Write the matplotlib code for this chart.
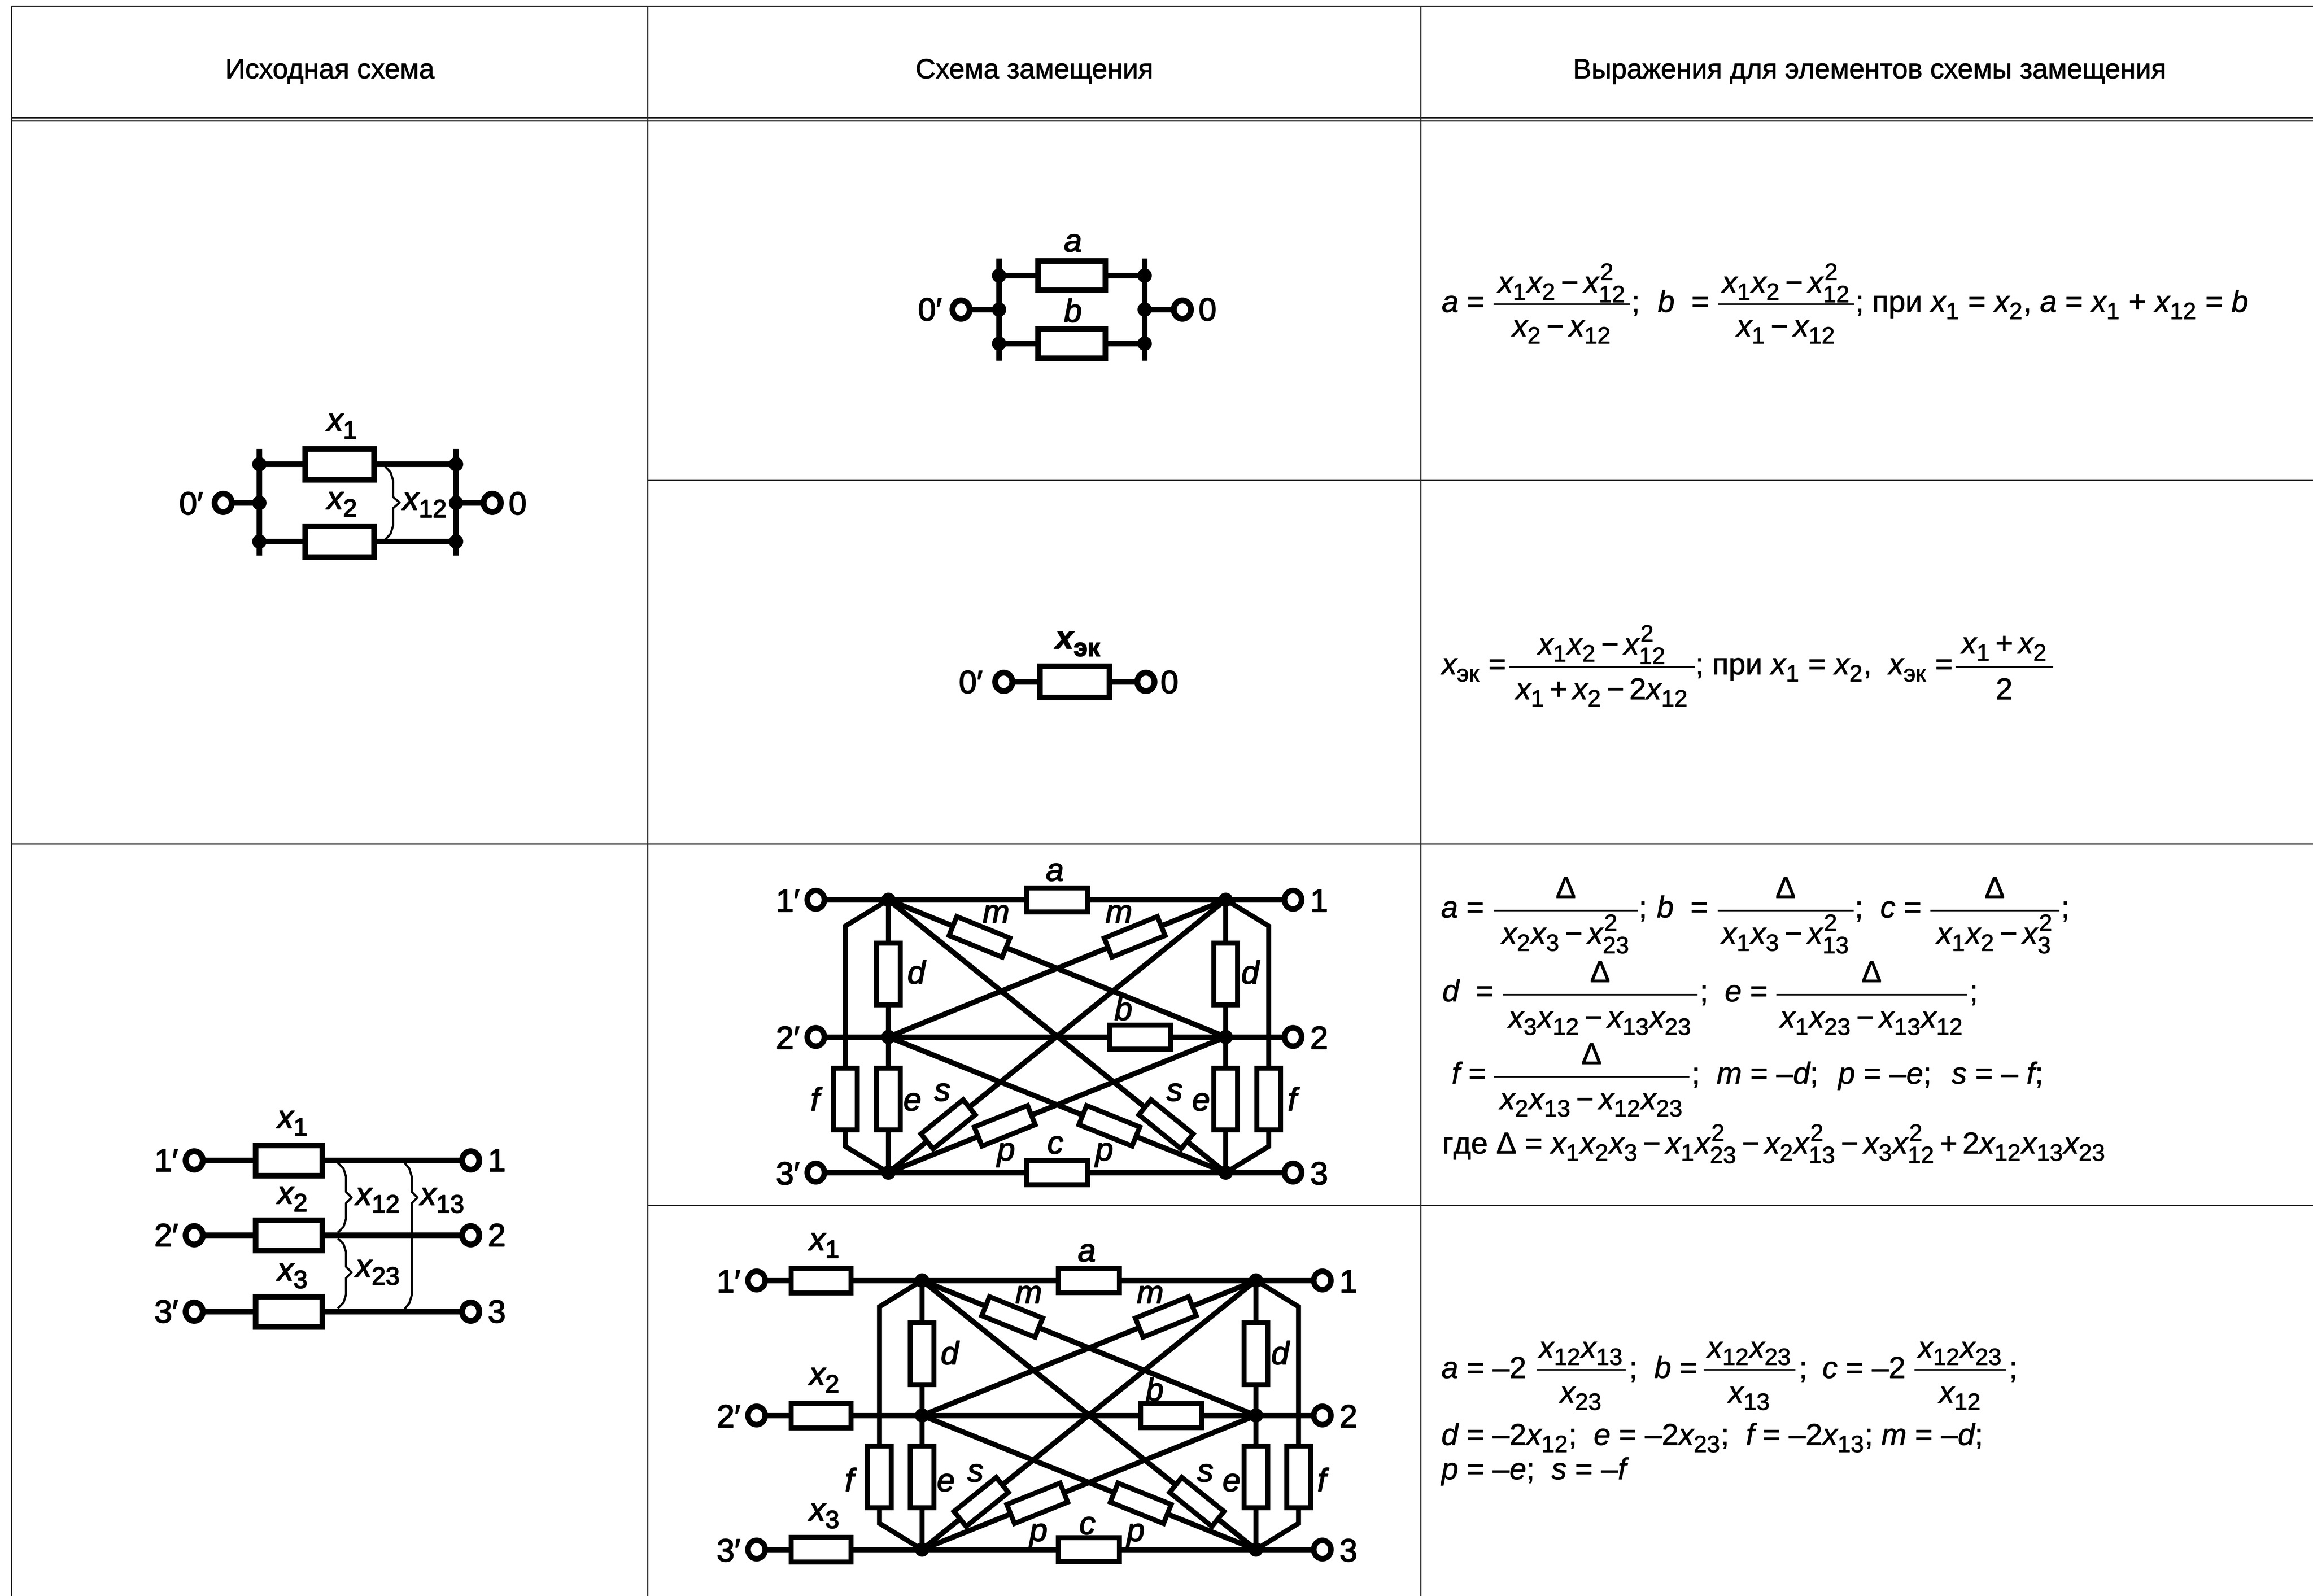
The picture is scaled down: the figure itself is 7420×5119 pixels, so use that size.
#!/usr/bin/env python3
"""Table of equivalent circuits for mutually coupled reactors, drawn in pixel coordinates."""

import matplotlib
matplotlib.use("Agg")
import matplotlib._mathtext as mt
import matplotlib.patheffects as pe
import matplotlib.pyplot as plt
from matplotlib.patches import Ellipse, Polygon
import numpy as np

W, H = 7421, 5119
PX = 72 / 100  # points per reference pixel at dpi 100

plt.rcParams["font.family"] = ["Liberation Sans", "DejaVu Sans"]
plt.rcParams["mathtext.fontset"] = "custom"
plt.rcParams["mathtext.rm"] = "Liberation Sans"
plt.rcParams["mathtext.it"] = "Liberation Sans:italic"
plt.rcParams["mathtext.bf"] = "Liberation Sans:bold"
plt.rcParams["mathtext.bfit"] = "Liberation Sans:italic:bold"

# the source has larger, lower subscripts than mathtext's defaults
mt.SHRINK_FACTOR = 0.78
mt.FontConstantsBase.sub1 = 0.45
mt.FontConstantsBase.sub2 = 0.6
mt.FontConstantsBase.sup1 = 0.8

HEADERS = ["Исходная схема", "Схема замещения", "Выражения для элементов схемы замещения"]
HEADER_X = [1058, 3318, 5997]
COL_X = [37, 2078, 4558]
HEAD_Y = [20, 378, 388]
ROW_FULL_Y = [2707]
ROW_PART_Y = [1541, 3866]

NET_LABELS = ["a", "m", "m", "d", "d", "b", "f", "e", "s", "s", "e", "f", "p", "c", "p"]
NET_LABEL_DX = [533, 344, 738, 92, 1163, 753, -230, 76, 173, 918, 1002, 1301, 378, 536, 693]
NET_LABEL_DY = [-61, 73, 73, 269, 269, 386, 676, 676, 645, 645, 676, 676, 836, 814, 836]

FS = 97 * PX
FS_NET = 103 * PX
FS_HEAD = 89 * PX

fig = plt.figure(figsize=(W / 100, H / 100), dpi=100)
ax = fig.add_axes([0, 0, 1, 1])
ax.set_xlim(0, W)
ax.set_ylim(H, 0)
ax.axis("off")


def line(xs, ys, lw=16, color="black", z=2):
    ax.plot(xs, ys, color=color, lw=lw * PX, solid_capstyle="butt",
            solid_joinstyle="miter", zorder=z)


def txt(x, y, s, ha="left", size=FS, bold=1.5):
    t = ax.text(x, y, s, ha=ha, va="baseline", fontsize=size, color="black", zorder=6)
    if bold:
        t.set_path_effects([pe.withStroke(linewidth=bold * PX, foreground="black")])


def lab(x, y, s, ha="left"):
    # labels inside the circuit drawings are heavier than the formulas
    txt(x, y, s, ha=ha, size=FS_NET, bold=3)


def resistor(cx, cy, w, h, lw=16, angle=0.0):
    # w and h are the outer size of the box
    u = np.array([np.cos(angle), np.sin(angle)])
    v = np.array([-u[1], u[0]])
    c = np.array([cx, cy])
    a, b = (w - lw) / 2, (h - lw) / 2
    pts = [c - a * u - b * v, c + a * u - b * v, c + a * u + b * v, c - a * u + b * v]
    ax.add_patch(Polygon(pts, closed=True, fc="white", ec="black", lw=lw * PX,
                         joinstyle="miter", zorder=4))


def terminal(x, y, lw=16, d=55):
    ax.add_patch(Ellipse((x, y), d, d + 4, fc="white", ec="black", lw=lw * PX, zorder=5))


def node(x, y, d=46):
    ax.add_patch(Ellipse((x, y), d, d, fc="black", ec="none", zorder=5))


def brace(x0, xv, xt, ytop, ymid, ybot):
    xs = [x0, xv - 8, xv, xv, xt, xv, xv, xv - 8, x0]
    ys = [ytop, ytop + 16, ytop + 42, ymid - 18, ymid, ymid + 18, ybot - 42, ybot - 16, ybot]
    ax.plot(xs, ys, color="black", lw=7 * PX, solid_joinstyle="round", zorder=3)


def parallel(xl, xr, xc, xtl, xtr, y1, y2, ytop, ybot, w, h):
    ym = (y1 + y2) / 2
    line([xl, xl], [ytop, ybot], 18)
    line([xr, xr], [ytop, ybot], 18)
    for y in (y1, y2):
        line([xl, xr], [y, y], 18)
        resistor(xc, y, w, h, 18)
        node(xl, y)
        node(xr, y)
    line([xtl, xl], [ym, ym], 18)
    line([xr, xtr], [ym, ym], 18)
    node(xl, ym)
    node(xr, ym)
    terminal(xtl, ym, 19)
    terminal(xtr, ym, 19)


def cross_net(x0, x1, y1, y2, y3, xtl, xtr):
    """Six-node network shared by the two lower diagrams of the middle column."""
    dx, dy = x1 - x0, y3 - y1
    k = dx / 1082
    xf0, xf1 = x0 - 138 * k, x1 + 138 * k
    # f branches with their bends
    line([x0, xf0, xf0, x0], [y1, y1 + 84, y3 - 84, y3], 16)
    line([x1, xf1, xf1, x1], [y1, y1 + 84, y3 - 84, y3], 16)
    # vertical buses
    line([x0, x0], [y1, y3], 16)
    line([x1, x1], [y1, y3], 16)
    # diagonals
    for ya, yb in ((y1, y2), (y2, y1), (y1, y3), (y3, y1), (y2, y3), (y3, y2)):
        line([x0, x1], [ya, yb], 17)
    # main rows
    for y in (y1, y2, y3):
        line([xtl, xtr], [y, y], 17)

    m_ang = np.arctan2(y2 - y1, dx)
    s_ang = np.arctan2(dy, dx)
    p_ang = np.arctan2(y3 - y2, dx)
    resistor(x0 + 0.5 * dx, y1, 212, 93)
    resistor(x0 + 0.5 * dx, y3, 212, 93)
    resistor(x0 + 0.746 * dx, y2, 212, 93)
    yd = y1 + 0.272 * dy
    ye = y1 + 0.73 * dy
    for x in (x0, x1):
        resistor(x, yd, 214, 92, angle=np.pi / 2)
        resistor(x, ye, 214, 92, angle=np.pi / 2)
    resistor(xf0, ye, 214, 92, angle=np.pi / 2)
    resistor(xf1, ye, 214, 92, angle=np.pi / 2)
    t = 0.27
    resistor(x0 + t * dx, y1 + t * (y2 - y1), 200, 82, angle=m_ang)
    resistor(x1 - t * dx, y1 + t * (y2 - y1), 200, 82, angle=-m_ang)
    t = 0.655
    resistor(x1 - t * dx, y2 + t * (y3 - y2), 200, 82, angle=-p_ang)
    resistor(x0 + t * dx, y2 + t * (y3 - y2), 200, 82, angle=p_ang)
    t = 0.823
    resistor(x1 - t * dx, y1 + t * dy, 190, 78, angle=-s_ang)
    resistor(x0 + t * dx, y1 + t * dy, 190, 78, angle=s_ang)

    for y, num in zip((y1, y2, y3), "123"):
        node(x0, y)
        node(x1, y)
        terminal(xtl, y, 18)
        terminal(xtr, y, 18)
        lab(xtl - 128, y + 38, num + "′")
        lab(xtr + 55, y + 38, num)
    for s, ldx, ldy in zip(NET_LABELS, NET_LABEL_DX, NET_LABEL_DY):
        lab(x0 + ldx * k, y1 + ldy, f"${s}$", ha="center")


def frac(xl, xr, y, num, den, ynum, yden):
    xc = (xl + xr) / 2
    line([xl, xr], [y, y], 5)
    txt(xc, ynum, num, ha="center")
    txt(xc, yden, den, ha="center")


# table grid
GRID = "#2a2a2a"
for y in HEAD_Y + ROW_FULL_Y:
    line([COL_X[0], W], [y, y], 4, GRID, 1)
for y in ROW_PART_Y:
    line([COL_X[1], W], [y, y], 4, GRID, 1)
for x in COL_X:
    line([x, x], [HEAD_Y[0], H], 4, GRID, 1)

for x, s in zip(HEADER_X, HEADERS):
    txt(x, 251, s, ha="center", size=FS_HEAD)

# left column, upper circuit
parallel(832, 1463, 1090, 716, 1579, 1489, 1737, 1440, 1782, 239, 117)
brace(1238, 1261, 1282, 1499, 1612, 1728)
lab(1049, 1382, "$x_1$")
lab(1049, 1633, "$x_2$")
lab(1292, 1635, "$x_{12}$")
lab(575, 1650, "0′")
lab(1632, 1650, "0")

# left column, lower circuit
ROWS3 = [3722, 3962, 4207]
for y, num, base in zip(ROWS3, "123", (3618, 3861, 4107)):
    line([623, 1510], [y, y], 18)
    resistor(927, y, 232, 115, 18)
    terminal(623, y, 19)
    terminal(1510, y, 19)
    lab(495, y + 35, num + "′")
    lab(1565, y + 35, num)
    lab(890, base, f"$x_{num}$")
brace(1086, 1110, 1128, 3732, 3841, 3951)
brace(1086, 1110, 1128, 3974, 4081, 4194)
brace(1300, 1321, 1339, 3732, 3841, 4196)
lab(1141, 3865, "$x_{12}$")
lab(1348, 3865, "$x_{13}$")
lab(1141, 4096, "$x_{23}$")

# middle column, a/b circuit
parallel(3205, 3672, 3438, 3083, 3793, 884, 1102, 829, 1157, 234, 112)
lab(3441, 807, "$a$", ha="center")
lab(3441, 1033, "$b$", ha="center")
lab(2945, 1028, "0′")
lab(3845, 1028, "0")

# middle column, single reactance
line([3220, 3676], [2187, 2187], 18)
resistor(3448, 2187, 241, 118, 18)
terminal(3220, 2187, 19)
terminal(3676, 2187, 19)
lab(3386, 2080, r"$\mathbfit{x}_{\mathbf{эк}}$")
lab(3076, 2223, "0′")
lab(3723, 2223, "0")

# middle column, cross networks
cross_net(2850, 3932, 2886, 3326, 3761, 2617, 4148)
cross_net(2958, 4029, 4107, 4540, 4970, 2427, 4242)
for y, num, base in zip((4107, 4540, 4970), "123", (4010, 4442, 4877)):
    resistor(2634, y, 208, 95)
    lab(2596, base, f"$x_{num}$")

# right column, row 1
N1 = r"$x_1x_2-x_{12}^2$"
txt(4625, 1001, "$a$ =")
frac(4791, 5229, 975, N1, r"$x_2-x_{12}$", 939, 1079)
txt(5234, 1001, ";")
txt(5318, 1001, "$b$  =")
frac(5511, 5948, 975, N1, r"$x_1-x_{12}$", 939, 1079)
txt(5952, 1001, "; при $x_1$ = $x_2$, $a$ = $x_1$ + $x_{12}$ = $b$")

# right column, row 2
txt(4625, 2163, r"$x_{\mathrm{эк}}$ =")
frac(4841, 5437, 2139, N1, r"$x_1+x_2-2x_{12}$", 2099, 2243)
txt(5439, 2163, r"; при $x_1$ = $x_2$,  $x_{\mathrm{эк}}$ =")
frac(6273, 6586, 2139, r"$x_1+x_2$", "2", 2096, 2243)

# right column, row 3
txt(4623, 2943, "$a$ =")
frac(4792, 5254, 2920, "Δ", r"$x_2x_3-x_{23}^2$", 2880, 3027)
txt(5257, 2943, ";")
txt(5315, 2943, "$b$  =")
frac(5510, 5946, 2920, "Δ", r"$x_1x_3-x_{13}^2$", 2880, 3027)
txt(5950, 2943, ";")
txt(6032, 2943, "$c$ =")
frac(6192, 6606, 2920, "Δ", r"$x_1x_2-x_3^2$", 2880, 3027)
txt(6612, 2943, ";")

txt(4627, 3212, "$d$  =")
frac(4821, 5445, 3190, "Δ", r"$x_3x_{12}-x_{13}x_{23}$", 3150, 3296)
txt(5453, 3212, ";")
txt(5533, 3212, "$e$ =")
frac(5698, 6310, 3190, "Δ", r"$x_1x_{23}-x_{13}x_{12}$", 3150, 3296)
txt(6318, 3212, ";")

txt(4657, 3476, "$f$ =")
frac(4792, 5419, 3453, "Δ", r"$x_2x_{13}-x_{12}x_{23}$", 3413, 3558)
txt(5427, 3476, ";")
txt(5507, 3476, "$m$ = –$d$;")
txt(5897, 3476, "$p$ = –$e$;")
txt(6261, 3476, "$s$ = – $f$;")
txt(4627, 3700, r"где Δ = $x_1x_2x_3-x_1x_{23}^2-x_2x_{13}^2-x_3x_{12}^2+2x_{12}x_{13}x_{23}$")

# right column, row 4
txt(4624, 4420, "$a$ = –2")
frac(4929, 5215, 4393, r"$x_{12}x_{13}$", r"$x_{23}$", 4355, 4499)
txt(5226, 4420, ";")
txt(5307, 4420, "$b$ =")
frac(5465, 5759, 4393, r"$x_{12}x_{23}$", r"$x_{13}$", 4355, 4499)
txt(5771, 4420, ";")
txt(5846, 4420, "$c$ = –2")
frac(6141, 6435, 4393, r"$x_{12}x_{23}$", r"$x_{12}$", 4355, 4499)
txt(6445, 4420, ";")
txt(4624, 4635, r"$d$ = –2$x_{12}$;  $e$ = –2$x_{23}$;  $f$ = –2$x_{13}$; $m$ = –$d$;")
txt(4624, 4745, "$p$ = –$e$;  $s$ = –$f$")

fig.savefig("out.png", dpi=100, facecolor="white")
